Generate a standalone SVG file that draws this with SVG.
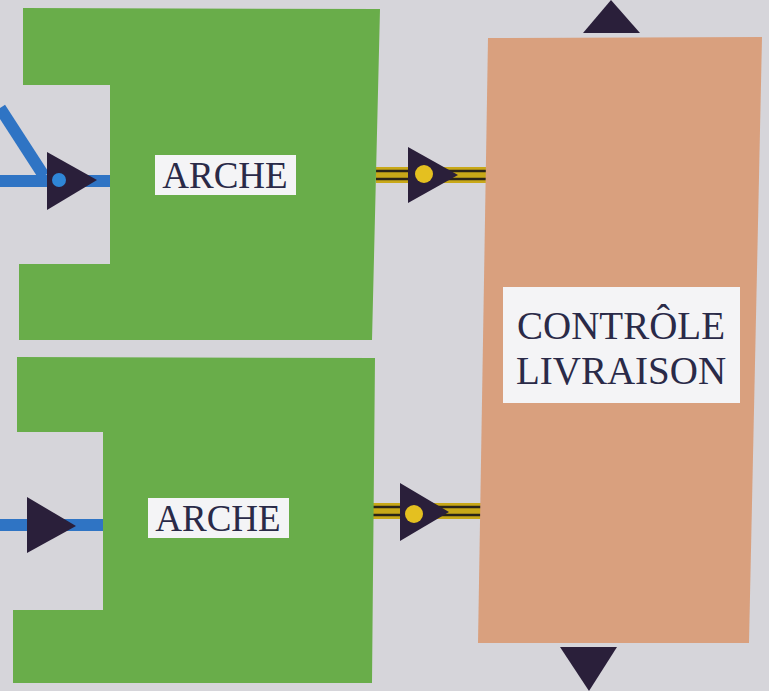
<svg xmlns="http://www.w3.org/2000/svg" width="769" height="691" viewBox="0 0 769 691">
  <style>
    .bg { fill: #d6d5da; }
    .arche { fill: #69ad4a; }
    .ctrl { fill: #d9a07e; }
    .label { fill: #f4f4f6; }
    .txt { font-family: "Liberation Serif", "Times New Roman", serif; fill: #2a2a48; text-anchor: middle; }
    .flow { stroke: #2f74c4; stroke-width: 12; fill: none; }
    .pin { fill: #2a1f3a; }
    .rail-y { stroke: #c8a818; stroke-width: 16; }
    .rail-k { stroke: #2a2418; stroke-width: 2.5; }
  </style>

  <rect class="bg" x="0" y="0" width="769" height="691"/>

  <g id="connectors">
    <!-- blue inputs -->
    <line class="flow" x1="0" y1="108" x2="44" y2="176"/>
    <line class="flow" x1="0" y1="181" x2="112" y2="181"/>
    <line class="flow" x1="0" y1="525" x2="104" y2="525"/>
    <!-- striped outputs -->
    <g id="rail-top">
      <line class="rail-y" x1="376" y1="175" x2="490" y2="175"/>
      <line class="rail-k" x1="376" y1="171" x2="490" y2="171"/>
      <line class="rail-k" x1="376" y1="179" x2="490" y2="179"/>
    </g>
    <g id="rail-bottom">
      <line class="rail-y" x1="372" y1="511" x2="482" y2="511"/>
      <line class="rail-k" x1="372" y1="507" x2="482" y2="507"/>
      <line class="rail-k" x1="372" y1="515" x2="482" y2="515"/>
    </g>
    <!-- direction pins -->
    <polygon class="pin" points="47,152 47,210 97,180"/>
    <circle cx="59" cy="180" r="7" fill="#2f86d6"/>
    <polygon class="pin" points="27,497 27,553 76,526"/>
    <polygon class="pin" points="408,147 408,203 458,175"/>
    <circle cx="424" cy="174" r="9" fill="#e4c020"/>
    <polygon class="pin" points="400,483 400,541 449,512"/>
    <circle cx="414" cy="514" r="9" fill="#e4c020"/>
    <polygon class="pin" points="583,33 640,33 611,0"/>
    <polygon class="pin" points="560,647 617,647 589,691"/>
  </g>

  <g id="arche-top">
    <polygon class="arche" points="23,8 380,9 372,340 19,340 19,264 110,264 110,85 23,85"/>
    <rect class="label" x="155" y="155" width="141" height="40"/>
    <text class="txt" x="225" y="188" font-size="37">ARCHE</text>
  </g>

  <g id="arche-bottom">
    <polygon class="arche" points="17,357 375,358 372,683 13,683 13,610 103,610 103,432 17,432"/>
    <rect class="label" x="148" y="498" width="141" height="40"/>
    <text class="txt" x="218" y="531" font-size="37">ARCHE</text>
  </g>

  <g id="controle-livraison">
    <polygon class="ctrl" points="488,38 762,37 749,643 478,643"/>
    <rect class="label" x="503" y="287" width="237" height="116"/>
    <text class="txt" x="621" y="339" font-size="39">CONTRÔLE</text>
    <text class="txt" x="621" y="384" font-size="39">LIVRAISON</text>
  </g>
</svg>
